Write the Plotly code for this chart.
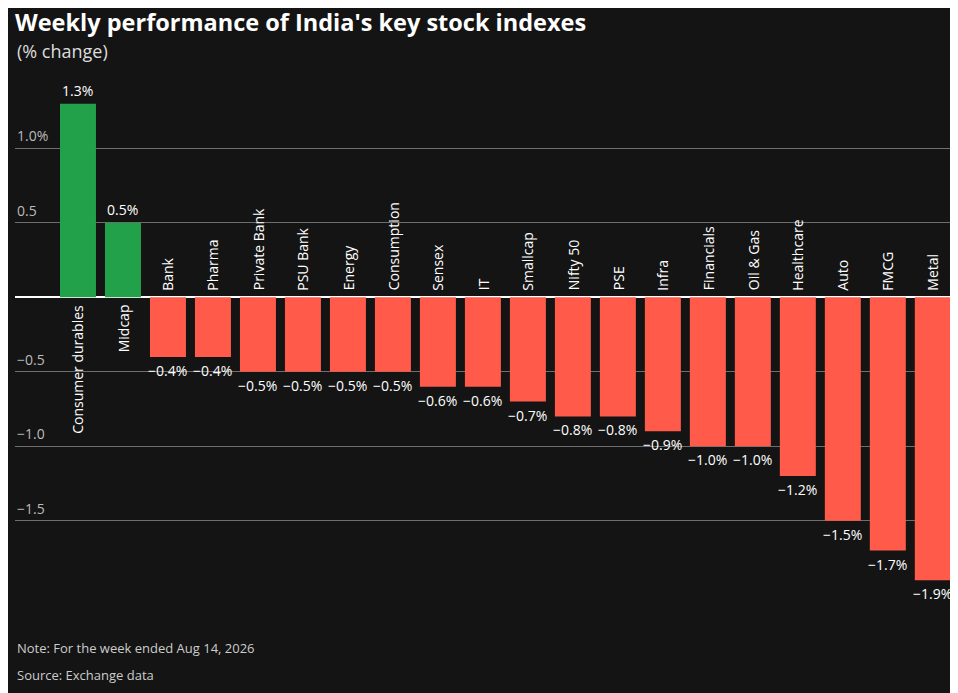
import plotly.graph_objects as go

categories = ["Consumer durables", "Midcap", "Bank", "Pharma", "Private Bank", "PSU Bank",
              "Energy", "Consumption", "Sensex", "IT", "Smallcap", "Nifty 50", "PSE", "Infra",
              "Financials", "Oil & Gas", "Healthcare", "Auto", "FMCG", "Metal"]
changes = [1.3, 0.5, -0.4, -0.4, -0.5, -0.5, -0.5, -0.5, -0.6, -0.6, -0.7, -0.8, -0.8, -0.9,
           -1.0, -1.0, -1.2, -1.5, -1.7, -1.9]
grid_values = [1.0, 0.5, -0.5, -1.0, -1.5]
grid_labels = ["1.0%", "0.5", "\u22120.5", "\u22121.0", "\u22121.5"]

FONT = "Open Sans"
GREEN = "#23a04a"
RED = "#ff5a4a"
W, H = 950, 685
PLOT_TOP, PLOT_H = 51, 566


def paper_y(py):
    # convert a pixel row (figure coords) into paper coordinates
    return (PLOT_TOP + PLOT_H - py) / PLOT_H


xs = list(range(len(categories)))
colors = [GREEN if v > 0 else RED for v in changes]

fig = go.Figure(go.Bar(x=xs, y=changes, marker=dict(color=colors, line=dict(width=0)),
                       width=0.8, hoverinfo="skip"))

annotations = []
for x, name, v in zip(xs, categories, changes):
    label = f"{abs(v):.1f}%"
    if v < 0:
        label = "\u2212" + label
    # category label next to the zero line
    annotations.append(dict(x=x, y=0, text=name, textangle=-90, showarrow=False,
                            xanchor="center", yanchor="bottom" if v < 0 else "top",
                            yshift=5 if v < 0 else -5,
                            font=dict(color="#ffffff", size=14, family=FONT)))
    # value label at bar end
    annotations.append(dict(x=x, y=v, text=label, showarrow=False, xanchor="center",
                            yanchor="top" if v < 0 else "bottom",
                            yshift=-2 if v < 0 else 2,
                            font=dict(color="#ffffff", size=14, family=FONT)))

for gv, gl in zip(grid_values, grid_labels):
    annotations.append(dict(x=0, xref="paper", y=gv, text=gl, showarrow=False,
                            xanchor="left", yanchor="bottom", yshift=1,
                            font=dict(color="#bbbbbb", size=14, family=FONT)))

annotations += [
    dict(x=0, xref="paper", y=paper_y(43), yref="paper", text="(% change)",
         showarrow=False, xanchor="left", yanchor="middle",
         font=dict(color="#dddddd", size=18, family=FONT)),
    dict(x=0, xref="paper", y=paper_y(640), yref="paper",
         text="Note: For the week ended Aug 14, 2026", showarrow=False,
         xanchor="left", yanchor="middle", font=dict(color="#cccccc", size=13, family=FONT)),
    dict(x=0, xref="paper", y=paper_y(667), yref="paper",
         text="Source: Exchange data", showarrow=False,
         xanchor="left", yanchor="middle", font=dict(color="#cccccc", size=13, family=FONT)),
]

fig.update_layout(
    width=W, height=H,
    paper_bgcolor="#141414", plot_bgcolor="#141414",
    margin=dict(l=7, r=0, t=PLOT_TOP, b=H - PLOT_TOP - PLOT_H),
    showlegend=False,
    title=dict(text="<b>Weekly performance of India's key stock indexes</b>",
               x=7 / W, xanchor="left", y=1 - 15 / H, yanchor="middle",
               font=dict(color="#ffffff", size=23.5, family=FONT)),
    xaxis=dict(range=[-1.4, 19.56], visible=False, fixedrange=True),
    yaxis=dict(range=[-2.2, 1.6], tickvals=grid_values, showticklabels=False,
               gridcolor="#6e6e6e", gridwidth=1, zeroline=True, zerolinecolor="#ffffff",
               zerolinewidth=1.5, fixedrange=True),
    annotations=annotations,
)

fig.write_html("out.html")
